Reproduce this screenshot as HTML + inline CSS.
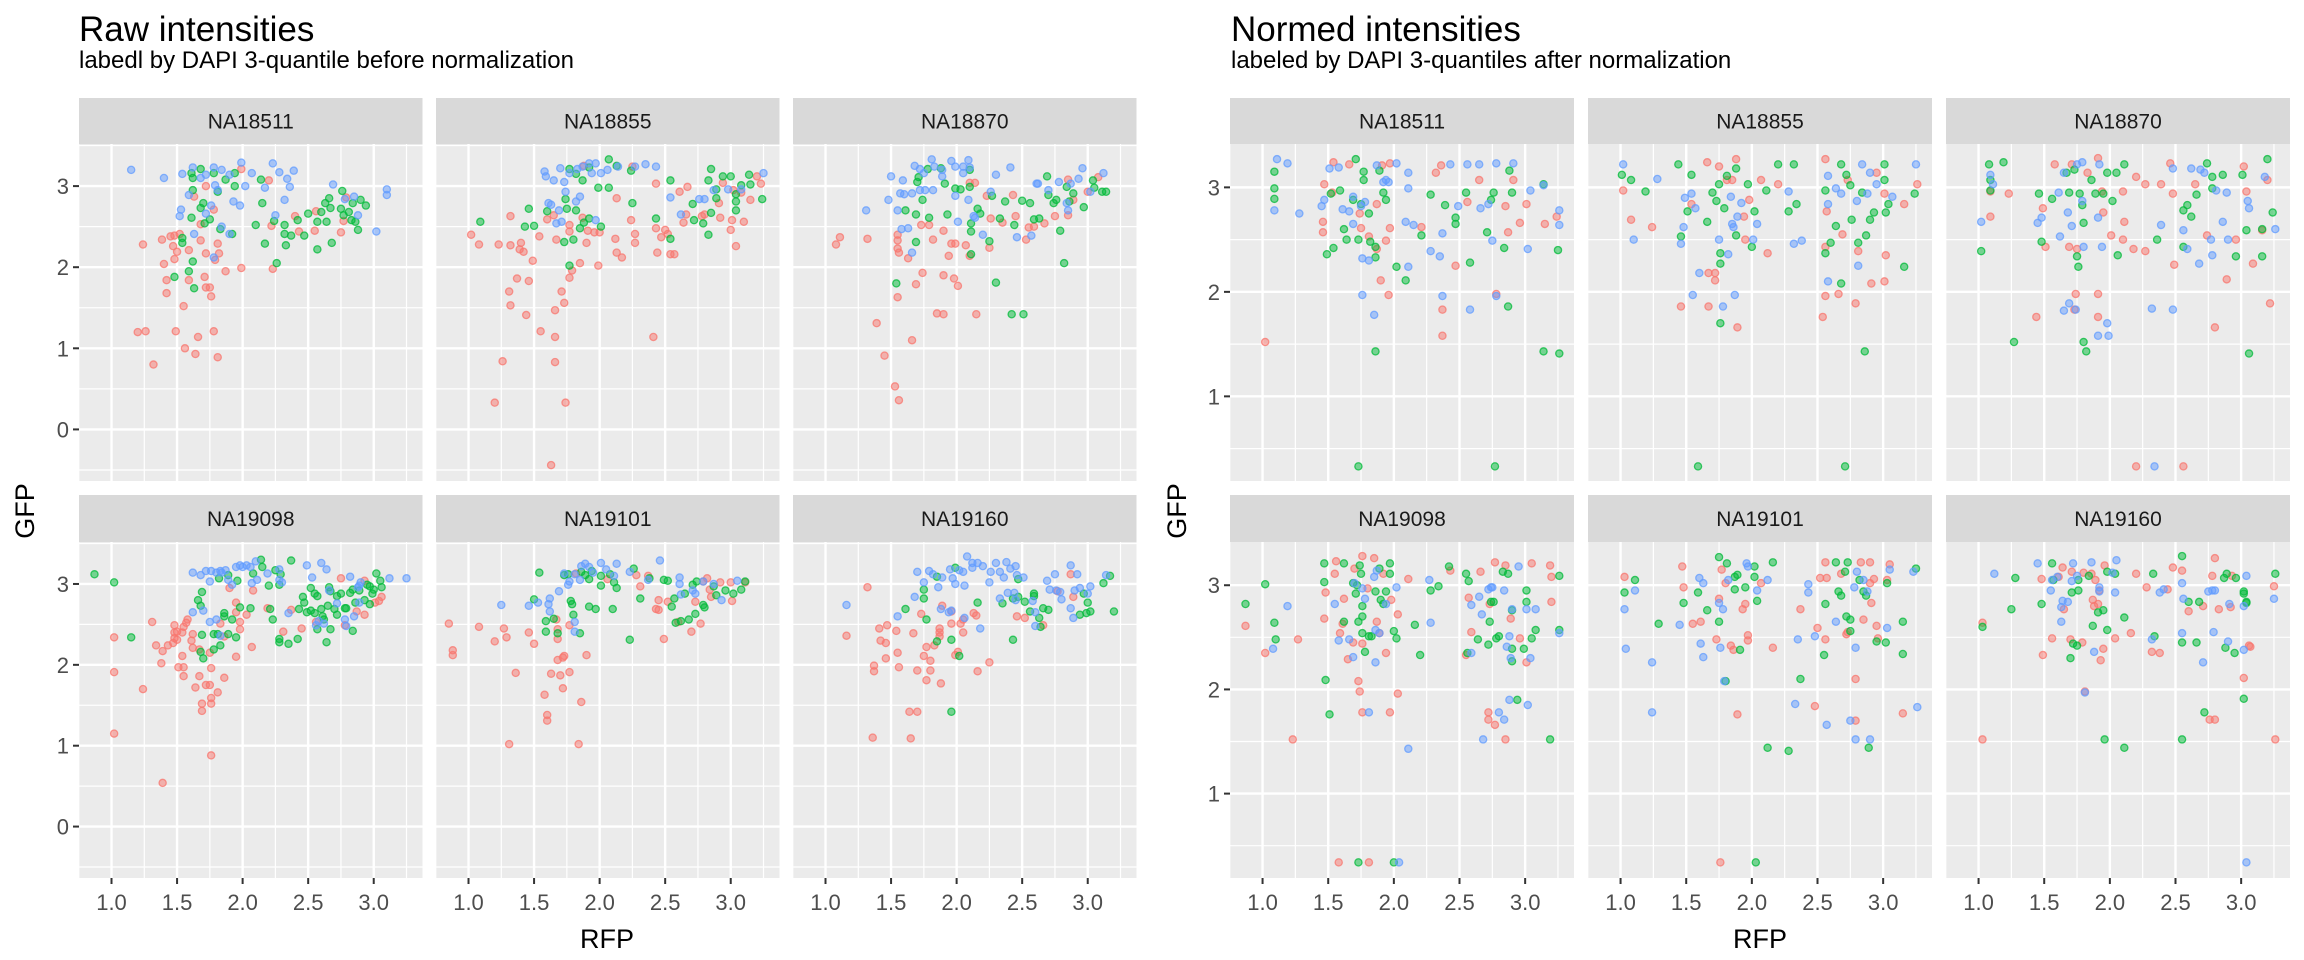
<!DOCTYPE html>
<html><head><meta charset="utf-8">
<style>
html,body{margin:0;padding:0;background:#fff;}
svg{display:block;font-family:"Liberation Sans",Arial,sans-serif;}
</style></head>
<body>
<svg id="chart" width="2304" height="960" viewBox="0 0 2304 960" xmlns="http://www.w3.org/2000/svg">
<text x="79" y="41" font-size="35" fill="#000">Raw intensities</text>
<text x="79" y="68" font-size="24" fill="#000">labedl by DAPI 3-quantile before normalization</text>
<text x="1231" y="41" font-size="35" fill="#000">Normed intensities</text>
<text x="1231" y="68" font-size="24" fill="#000">labeled by DAPI 3-quantiles after normalization</text>
<text transform="translate(34,511) rotate(-90)" text-anchor="middle" font-size="27" fill="#000">GFP</text>
<text transform="translate(1186,511) rotate(-90)" text-anchor="middle" font-size="27" fill="#000">GFP</text>
<text x="607" y="948" text-anchor="middle" font-size="27" fill="#000">RFP</text>
<text x="1760" y="948" text-anchor="middle" font-size="27" fill="#000">RFP</text>
<g id="panels"></g>
</svg>
<script>
const groupColors = ["#F8766D","#00BA38","#619CFF"];
const xTicks = [1.0,1.5,2.0,2.5,3.0];
const xTickLabels = ["1.0","1.5","2.0","2.5","3.0"];
const xMinor = [0.75,1.25,1.75,2.25,2.75,3.25];
const rawYTicks = [0,1,2,3];
const rawYMinor = [-0.5,0.5,1.5,2.5,3.5];
const normYTicks = [1,2,3];
const normYMinor = [0.5,1.5,2.5];
const lines = ["NA18511","NA18855","NA18870","NA19098","NA19101","NA19160"];

const raw_NA18511_q1 = [[1.99,3.21],[2.2,3.07],[1.72,3.0],[1.63,2.87],[1.78,2.71],[1.24,2.28],[1.385,2.34],[1.45,2.38],[1.48,2.39],[1.52,2.41],[1.47,2.26],[1.5,2.19],[1.48,2.1],[1.4,2.04],[1.59,2.21],[1.68,2.33],[1.81,2.29],[1.72,2.17],[1.82,2.17],[1.79,2.09],[1.87,1.95],[1.99,1.99],[2.23,1.98],[1.59,1.84],[1.71,1.88],[1.72,1.75],[1.75,1.75],[1.76,1.64],[1.42,1.84],[1.42,1.68],[1.55,1.52],[1.26,1.21],[1.49,1.21],[1.66,1.14],[1.78,1.21],[2.22,2.51],[2.43,2.44],[2.4,2.63],[2.55,2.45],[2.56,2.69],[2.75,2.43],[2.77,2.57],[2.79,2.86],[1.68,2.53],[1.32,0.8],[1.56,1.0],[1.64,0.93],[1.81,0.89],[1.2,1.2]];
const raw_NA18511_q2 = [[1.68,3.21],[1.61,3.16],[1.62,3.1],[1.78,3.16],[1.87,3.08],[1.94,3.16],[1.94,3.0],[1.81,2.93],[1.62,2.95],[1.7,2.79],[1.68,2.73],[1.61,2.61],[1.71,2.54],[1.75,2.59],[1.83,2.47],[1.54,2.36],[1.54,2.3],[1.62,2.07],[1.59,1.95],[1.48,1.88],[1.63,1.74],[1.92,2.41],[2.14,3.08],[2.15,2.79],[2.1,2.52],[2.17,2.29],[2.24,2.57],[2.32,2.52],[2.32,2.41],[2.33,2.27],[2.37,2.39],[2.47,2.39],[2.42,2.58],[2.5,2.66],[2.57,2.56],[2.57,2.22],[2.68,2.3],[2.64,2.56],[2.6,2.68],[2.63,2.79],[2.66,2.85],[2.67,2.73],[2.76,2.94],[2.75,2.72],[2.77,2.64],[2.81,2.68],[2.84,2.79],[2.9,2.83],[2.94,2.76],[2.83,2.58],[2.86,2.56],[2.88,2.46],[2.26,2.05]];
const raw_NA18511_q3 = [[1.15,3.2],[1.4,3.1],[1.54,3.15],[1.62,3.23],[1.72,3.14],[1.78,3.23],[1.84,3.2],[1.9,3.14],[1.99,3.29],[2.02,3.0],[2.07,3.16],[2.17,2.98],[2.23,3.28],[2.28,3.17],[2.34,3.09],[2.36,2.99],[2.39,3.19],[2.69,3.02],[1.59,2.89],[1.53,2.71],[1.52,2.63],[1.72,2.66],[1.76,2.76],[1.84,2.5],[1.93,2.81],[1.98,2.76],[1.9,2.41],[1.63,2.41],[1.78,2.12],[2.25,2.64],[2.32,2.83],[2.78,2.84],[2.85,2.87],[2.88,2.64],[3.02,2.44],[3.1,2.96],[3.1,2.89],[1.81,2.95],[1.79,3.01],[1.68,3.1]];

const raw_NA18855_q1 = [[1.02,2.4],[1.08,2.28],[1.23,2.28],[1.32,2.27],[1.4,2.3],[1.39,2.22],[1.42,2.19],[1.32,2.63],[1.54,2.38],[1.6,2.59],[1.65,2.64],[1.67,2.34],[1.77,2.52],[1.77,2.44],[1.87,2.61],[1.91,2.45],[1.96,2.43],[2.0,2.43],[1.9,2.3],[1.49,2.08],[1.85,2.05],[1.99,2.02],[1.79,1.96],[1.77,1.87],[1.37,1.86],[1.46,1.83],[1.31,1.7],[1.32,1.53],[1.44,1.41],[1.71,1.7],[1.73,1.56],[1.66,1.47],[1.55,1.21],[1.66,1.14],[1.26,0.84],[1.66,0.83],[2.41,1.14],[2.12,2.35],[2.13,2.18],[2.17,2.12],[2.13,2.85],[2.24,2.58],[2.27,2.41],[2.27,2.3],[2.44,2.18],[2.47,2.37],[2.43,2.48],[2.5,2.46],[2.52,2.41],[2.54,2.16],[2.57,2.16],[2.43,3.03],[2.61,2.93],[2.67,2.99],[2.64,2.55],[2.66,2.65],[2.78,2.63],[2.8,2.65],[2.92,2.61],[2.91,2.79],[2.94,3.04],[3.02,2.95],[3.01,2.58],[3.04,2.26],[3.1,2.56],[3.0,2.46],[3.15,2.83],[3.2,3.12],[3.23,3.03],[2.25,3.24],[1.88,3.25],[3.08,2.92],[1.63,-0.44],[1.2,0.33],[1.74,0.33]];
const raw_NA18855_q2 = [[1.09,2.56],[1.43,2.5],[1.5,2.51],[1.46,2.72],[1.6,2.69],[1.74,2.84],[1.75,2.72],[1.82,2.7],[1.88,2.55],[1.92,2.6],[2.01,2.5],[1.85,2.48],[1.8,2.34],[1.73,2.31],[1.77,2.02],[1.77,3.21],[1.82,3.15],[1.87,3.07],[1.92,3.23],[1.99,2.98],[2.07,3.33],[2.07,2.98],[2.13,3.25],[2.24,3.19],[2.25,2.79],[2.43,2.6],[2.54,3.07],[2.54,2.35],[2.71,2.78],[2.72,2.58],[2.79,2.54],[2.83,2.4],[2.83,3.07],[2.85,3.21],[2.89,2.96],[2.89,2.85],[2.94,3.12],[3.0,3.12],[3.04,2.81],[3.04,2.7],[3.08,3.01],[3.14,3.14],[3.15,3.02],[3.24,2.84],[2.85,2.67],[3.04,2.9]];
const raw_NA18855_q3 = [[1.58,3.18],[1.59,3.12],[1.65,3.07],[1.7,3.22],[1.73,3.05],[1.74,2.93],[1.77,3.16],[1.83,3.21],[1.87,3.24],[1.92,3.28],[1.97,3.28],[1.94,3.16],[2.01,3.16],[2.06,3.2],[2.14,3.24],[2.27,3.24],[2.35,3.27],[2.43,3.24],[1.97,2.58],[1.67,2.54],[1.61,2.79],[1.63,2.77],[1.69,2.7],[1.82,2.81],[1.85,2.87],[2.54,2.86],[2.62,2.65],[2.76,2.84],[2.8,2.84],[2.87,2.95],[2.98,2.96],[3.08,2.96],[3.25,3.16],[1.71,2.56]];

const raw_NA18870_q1 = [[1.08,2.28],[1.11,2.37],[1.32,2.35],[1.55,2.4],[1.55,2.33],[1.55,2.23],[1.56,2.18],[1.63,2.11],[1.73,2.52],[1.79,2.52],[1.82,2.34],[1.9,2.45],[1.96,2.29],[1.99,2.29],[2.07,2.27],[2.1,2.14],[2.25,2.24],[2.26,2.6],[2.35,2.55],[2.23,2.88],[2.14,3.04],[2.43,2.89],[2.45,2.63],[2.53,2.34],[2.55,2.49],[2.59,2.5],[2.67,2.54],[2.75,2.63],[2.85,2.64],[2.89,2.83],[3.0,2.93],[2.85,3.08],[1.94,2.14],[1.74,1.93],[1.69,1.79],[1.9,1.9],[1.98,1.86],[2.01,1.77],[1.85,1.43],[1.9,1.42],[2.15,1.42],[1.55,1.63],[1.39,1.31],[1.66,1.1],[1.45,0.91],[1.53,0.53],[2.1,3.04],[3.08,3.11],[1.56,0.36]];
const raw_NA18870_q2 = [[1.71,3.11],[1.78,3.21],[1.88,3.22],[1.7,3.05],[1.74,2.83],[1.69,2.65],[1.61,2.7],[1.79,2.61],[1.69,2.31],[1.93,2.65],[1.91,3.03],[1.99,2.97],[2.03,2.96],[2.1,3.2],[2.1,2.99],[2.11,2.54],[2.11,2.44],[2.16,2.72],[2.18,2.66],[2.25,2.32],[2.27,2.88],[2.33,2.6],[2.37,2.81],[2.44,2.52],[2.5,2.82],[2.56,2.79],[2.59,2.59],[2.63,2.6],[2.69,3.12],[2.7,2.89],[2.74,2.79],[2.76,2.83],[2.79,2.45],[2.82,2.05],[2.84,2.99],[2.86,2.81],[2.89,2.91],[2.97,2.74],[3.04,3.07],[3.05,2.98],[3.11,2.93],[3.14,2.93],[1.54,1.8],[2.3,1.81],[2.42,1.42],[2.51,1.42],[2.11,2.16]];
const raw_NA18870_q3 = [[1.31,2.7],[1.48,2.83],[1.5,3.12],[1.59,3.07],[1.55,2.7],[1.57,2.91],[1.6,2.9],[1.66,2.91],[1.68,3.25],[1.72,3.21],[1.75,3.16],[1.81,3.33],[1.83,3.24],[1.89,3.2],[1.96,3.31],[1.99,3.24],[2.05,3.24],[2.09,3.32],[2.1,3.23],[2.05,3.16],[1.89,3.12],[1.76,2.95],[1.72,2.95],[1.99,2.88],[2.09,2.83],[2.01,2.56],[2.13,2.63],[2.14,2.61],[2.2,2.4],[2.26,2.93],[2.3,3.14],[2.41,3.23],[2.46,2.37],[2.57,2.39],[2.61,3.03],[2.62,3.03],[2.7,2.95],[2.78,3.05],[2.84,2.79],[2.85,2.7],[2.87,3.03],[2.93,3.09],[2.96,3.22],[3.02,2.93],[3.12,3.16],[1.58,2.47],[1.63,2.48],[1.66,2.18],[1.82,2.95]];

const raw_NA19098_q1 = [[1.02,2.34],[1.02,1.91],[1.02,1.15],[1.24,1.7],[1.31,2.53],[1.34,2.24],[1.39,2.17],[1.38,2.02],[1.39,0.54],[1.43,2.24],[1.47,2.27],[1.48,2.33],[1.48,2.4],[1.48,2.49],[1.5,2.41],[1.5,2.31],[1.54,2.4],[1.55,2.47],[1.57,2.52],[1.58,2.56],[1.54,2.11],[1.51,1.97],[1.55,1.97],[1.55,1.86],[1.62,2.38],[1.61,2.3],[1.62,2.21],[1.67,2.19],[1.67,1.86],[1.64,1.72],[1.72,1.75],[1.75,1.75],[1.76,1.96],[1.75,2.15],[1.76,1.59],[1.76,1.52],[1.81,1.66],[1.69,1.52],[1.69,1.43],[1.76,0.88],[1.86,1.84],[1.83,2.51],[1.86,2.35],[1.95,2.1],[1.98,2.44],[1.98,2.53],[1.95,2.65],[1.95,2.77],[2.03,2.62],[2.07,2.22],[2.08,2.92],[1.9,2.95],[2.19,2.7],[2.31,2.41],[2.45,2.45],[2.37,2.68],[2.56,2.53],[2.78,2.49],[2.87,2.66],[2.93,2.62],[3.01,2.77],[3.04,2.79],[3.06,2.84],[2.93,3.04],[2.75,3.07]];
const raw_NA19098_q2 = [[0.87,3.12],[1.02,3.02],[1.15,2.34],[1.66,2.8],[1.69,2.9],[1.68,2.73],[1.69,2.37],[1.68,2.16],[1.7,2.08],[1.78,2.19],[1.83,2.24],[1.78,2.38],[1.81,2.38],[1.89,2.38],[1.95,2.34],[1.92,2.56],[1.86,2.64],[1.86,2.6],[1.98,2.71],[2.06,2.7],[1.82,3.07],[1.89,3.11],[1.96,3.04],[2.08,3.13],[2.15,3.21],[2.2,2.98],[2.21,2.69],[2.23,2.56],[2.25,3.17],[2.28,2.99],[2.29,3.12],[2.28,2.32],[2.28,2.28],[2.35,2.26],[2.42,2.32],[2.43,2.69],[2.46,2.84],[2.47,2.77],[2.49,2.65],[2.52,2.67],[2.52,2.95],[2.55,2.88],[2.57,2.85],[2.55,2.64],[2.57,2.44],[2.6,2.69],[2.61,2.6],[2.62,2.56],[2.64,2.28],[2.67,2.44],[2.65,2.73],[2.66,2.96],[2.67,2.91],[2.7,2.69],[2.72,2.85],[2.72,2.62],[2.75,2.88],[2.78,2.7],[2.79,2.7],[2.82,2.89],[2.84,2.93],[2.84,2.42],[2.86,2.77],[2.89,2.92],[2.93,2.8],[2.95,2.99],[2.97,2.75],[2.99,2.88],[3.0,2.93],[3.02,3.13],[3.05,3.04],[3.06,2.96],[2.97,2.97],[2.37,3.29],[2.14,3.3]];
const raw_NA19098_q3 = [[1.62,3.14],[1.68,3.11],[1.72,3.16],[1.76,3.16],[1.75,3.03],[1.8,3.14],[1.83,3.16],[1.84,3.14],[1.87,3.17],[1.89,3.05],[1.92,2.99],[1.95,3.21],[1.98,3.23],[2.0,3.21],[2.03,3.23],[2.06,3.21],[2.07,3.01],[2.11,3.05],[2.1,3.28],[2.19,3.13],[2.28,3.05],[2.3,3.02],[2.28,3.18],[2.49,3.23],[2.53,3.08],[2.6,3.26],[2.64,3.18],[2.66,2.92],[2.72,2.76],[2.78,2.56],[2.79,2.48],[2.85,2.6],[2.88,2.96],[2.89,2.77],[2.82,3.09],[2.9,3.02],[3.12,3.07],[3.25,3.07],[1.62,2.65],[1.7,2.67],[1.75,2.53],[1.8,2.56],[1.83,2.36],[2.35,2.64],[2.56,2.49],[2.58,2.54],[2.62,2.51],[2.89,2.98]];

const raw_NA19101_q1 = [[0.85,2.51],[0.88,2.18],[0.88,2.12],[1.08,2.47],[1.27,2.45],[1.29,2.34],[1.2,2.29],[1.46,2.4],[1.5,2.26],[1.68,2.44],[1.68,2.32],[1.67,2.56],[1.77,2.49],[1.68,2.06],[1.72,2.09],[1.73,2.11],[1.9,2.12],[1.36,1.9],[1.63,1.89],[1.7,1.87],[1.77,1.91],[1.72,1.71],[1.58,1.63],[1.86,1.54],[1.6,1.38],[1.6,1.31],[1.31,1.02],[1.84,1.02],[1.82,3.13],[2.06,3.06],[2.28,3.11],[2.37,3.1],[2.31,2.97],[2.45,2.8],[2.43,2.69],[2.45,2.68],[2.49,2.32],[2.52,2.78],[2.6,2.53],[2.7,2.41],[2.77,2.51],[2.73,2.78],[2.84,2.93],[2.85,2.84],[2.79,3.03],[2.82,3.07],[2.92,3.02],[3.0,3.02],[3.01,2.79],[3.11,3.02]];
const raw_NA19101_q2 = [[1.54,3.14],[1.5,2.81],[1.59,2.54],[1.59,2.41],[1.65,2.57],[1.68,2.39],[1.73,3.11],[1.76,3.12],[1.78,2.79],[1.79,2.75],[1.8,2.62],[1.85,2.39],[1.86,3.15],[1.89,3.11],[1.92,3.06],[1.94,3.16],[1.92,2.72],[1.97,2.69],[2.01,2.98],[2.01,3.1],[2.08,3.12],[2.11,3.02],[2.13,2.95],[2.1,2.69],[2.23,2.31],[2.26,3.19],[2.31,2.82],[2.38,3.07],[2.49,3.05],[2.52,3.04],[2.55,2.72],[2.57,2.82],[2.58,2.52],[2.62,2.54],[2.65,2.88],[2.68,2.56],[2.71,2.99],[2.74,3.03],[2.73,2.63],[2.79,2.74],[2.8,2.71],[2.87,2.97],[2.89,2.86],[2.96,2.92],[3.02,2.88],[3.08,2.93],[3.11,3.03]];
const raw_NA19101_q3 = [[1.25,2.74],[1.46,2.73],[1.53,2.77],[1.61,2.75],[1.62,2.82],[1.62,2.66],[1.69,2.91],[1.76,2.99],[1.77,3.03],[1.73,3.13],[1.81,3.12],[1.85,3.05],[1.86,3.22],[1.89,3.25],[1.92,3.21],[1.95,3.14],[2.01,3.26],[2.05,3.18],[2.13,3.25],[2.11,3.1],[2.23,3.15],[2.37,3.05],[2.46,3.29],[2.61,3.08],[2.61,3.0],[2.62,2.87],[2.71,2.92],[2.73,2.88],[2.79,3.03],[2.87,3.0],[2.93,2.8],[3.05,3.04],[1.81,2.53],[1.81,2.41]];

const raw_NA19160_q1 = [[1.16,2.36],[1.32,2.96],[1.37,1.99],[1.37,1.92],[1.36,1.1],[1.41,2.45],[1.42,2.3],[1.46,2.27],[1.46,2.08],[1.47,2.49],[1.54,2.42],[1.55,2.15],[1.56,1.97],[1.64,1.42],[1.7,1.42],[1.65,1.09],[1.67,2.39],[1.7,1.93],[1.73,2.63],[1.75,2.11],[1.77,2.22],[1.8,2.05],[1.8,1.93],[1.77,1.81],[1.83,2.24],[1.87,2.4],[1.87,2.35],[1.87,2.45],[1.88,1.77],[1.89,2.73],[1.96,2.66],[1.96,2.51],[1.99,2.12],[2.01,2.16],[2.03,2.51],[2.05,2.4],[2.05,2.56],[2.13,2.64],[2.15,2.61],[2.16,1.92],[2.25,2.03],[2.46,2.6],[2.52,2.58],[2.66,2.49],[2.77,2.91],[2.87,3.12],[2.89,2.84]];
const raw_NA19160_q2 = [[1.61,2.69],[1.75,2.93],[1.75,2.82],[1.77,2.56],[1.85,3.09],[1.85,2.29],[1.96,2.31],[1.99,3.2],[2.02,2.11],[1.96,1.42],[2.16,2.77],[2.35,2.76],[2.43,2.82],[2.47,2.84],[2.43,2.31],[2.47,3.06],[2.52,2.78],[2.56,2.66],[2.59,2.85],[2.63,2.58],[2.64,2.47],[2.66,2.7],[2.7,2.68],[2.94,2.62],[2.99,2.64],[3.02,2.66],[2.97,2.88],[3.0,2.77],[3.12,3.01],[3.17,3.1],[3.2,2.66],[2.59,2.88]];
const raw_NA19160_q3 = [[1.16,2.74],[1.55,2.6],[1.68,2.84],[1.7,3.15],[1.75,3.02],[1.79,3.16],[1.82,3.12],[1.86,2.96],[1.89,3.08],[1.88,2.69],[1.94,2.65],[1.96,2.67],[1.95,3.18],[1.97,3.07],[1.99,3.0],[2.02,3.17],[2.05,3.15],[2.06,2.58],[2.06,2.98],[2.08,3.34],[2.12,3.26],[2.12,3.2],[2.16,3.26],[2.2,3.22],[2.18,2.45],[2.26,3.15],[2.25,3.02],[2.3,3.26],[2.33,3.15],[2.36,3.08],[2.38,3.27],[2.41,3.19],[2.45,3.22],[2.46,3.11],[2.51,3.08],[2.39,2.89],[2.44,2.89],[2.33,2.82],[2.45,2.8],[2.58,2.79],[2.6,2.65],[2.6,2.48],[2.69,3.04],[2.75,3.12],[2.71,2.93],[2.76,2.92],[2.79,2.9],[2.8,2.81],[2.87,2.7],[2.89,2.58],[2.87,3.23],[2.92,3.12],[2.94,2.95],[3.0,2.88],[3.02,2.97],[3.14,3.11],[2.9,2.92]];

const norm_NA18511_q1 = [[1.02,1.52],[1.47,3.03],[1.46,2.67],[1.46,2.57],[1.54,3.24],[1.53,2.95],[1.66,3.22],[1.74,2.75],[1.75,2.61],[1.81,2.53],[1.87,2.84],[1.87,2.41],[1.9,2.11],[1.96,1.97],[1.97,2.61],[1.91,3.21],[1.97,3.23],[1.94,2.49],[2.21,2.62],[2.37,1.83],[2.37,1.58],[2.32,3.14],[2.36,3.21],[2.56,2.86],[2.65,3.07],[2.47,2.25],[2.78,1.98],[2.85,2.82],[2.91,3.07],[2.96,2.66],[3.01,2.84],[3.15,2.65],[3.24,2.72],[2.87,2.57]];
const norm_NA18511_q2 = [[1.09,3.15],[1.09,2.99],[1.09,2.89],[1.49,2.36],[1.54,2.42],[1.52,2.94],[1.59,2.97],[1.62,2.6],[1.64,2.5],[1.71,3.27],[1.69,2.88],[1.75,2.84],[1.73,2.5],[1.77,3.15],[1.77,3.07],[1.81,2.75],[1.82,2.48],[1.86,2.43],[1.86,2.33],[1.89,3.16],[1.92,2.95],[1.94,2.88],[1.86,1.43],[2.02,2.24],[2.09,2.11],[2.21,2.54],[2.28,2.93],[2.39,2.83],[2.47,2.71],[2.47,2.65],[2.55,2.95],[2.58,2.28],[2.71,2.57],[2.74,2.88],[2.76,2.95],[2.84,2.42],[2.88,3.16],[2.9,2.95],[2.87,1.86],[3.14,3.03],[3.14,1.43],[3.26,1.41],[3.25,2.4],[1.73,0.33],[2.77,0.33]];
const norm_NA18511_q3 = [[1.11,3.27],[1.19,3.23],[1.09,2.78],[1.28,2.75],[1.45,2.82],[1.47,2.88],[1.51,3.18],[1.58,3.19],[1.61,2.79],[1.66,2.77],[1.69,2.91],[1.69,2.65],[1.75,2.82],[1.78,2.86],[1.76,2.32],[1.81,2.3],[1.76,1.97],[1.85,1.78],[1.87,3.21],[1.92,3.05],[1.94,3.07],[1.96,3.05],[2.02,3.23],[2.11,3.14],[2.11,2.99],[2.11,2.24],[2.09,2.67],[2.15,2.64],[2.28,2.39],[2.35,2.34],[2.37,1.96],[2.37,2.56],[2.49,2.82],[2.43,3.22],[2.56,3.22],[2.65,3.22],[2.66,2.8],[2.75,2.49],[2.78,3.23],[2.78,1.96],[2.91,3.23],[3.04,2.97],[3.02,2.41],[3.14,3.02],[3.26,2.78],[3.26,2.64],[2.58,1.83],[2.72,2.84]];

const norm_NA18855_q1 = [[1.02,2.97],[1.08,2.69],[1.24,2.62],[1.46,1.86],[1.54,2.84],[1.66,3.24],[1.67,2.18],[1.67,1.86],[1.72,2.18],[1.72,2.11],[1.75,3.2],[1.81,3.07],[1.85,3.07],[1.88,3.27],[1.89,1.66],[1.94,2.72],[1.95,2.5],[1.98,2.88],[2.07,3.07],[2.12,2.37],[2.2,3.03],[2.56,3.27],[2.57,2.77],[2.56,2.43],[2.56,1.96],[2.54,1.76],[2.66,1.98],[2.69,2.55],[2.79,1.89],[2.81,2.39],[2.91,2.08],[2.95,3.14],[3.01,2.94],[3.01,2.1],[3.02,2.35],[3.16,2.84],[3.26,3.03],[2.73,3.07]];
const norm_NA18855_q2 = [[1.01,3.12],[1.08,3.07],[1.19,2.96],[1.44,3.22],[1.46,2.53],[1.51,2.77],[1.54,3.12],[1.66,2.67],[1.7,2.95],[1.75,3.03],[1.73,2.87],[1.76,2.37],[1.76,2.27],[1.76,1.7],[1.79,2.8],[1.81,3.11],[1.88,3.18],[1.88,2.54],[1.97,3.03],[2.0,2.43],[2.02,2.77],[2.11,2.97],[2.2,3.22],[2.28,2.77],[2.32,3.22],[2.34,2.84],[2.56,2.97],[2.56,2.37],[2.6,2.47],[2.64,2.63],[2.68,3.22],[2.68,2.08],[2.72,3.12],[2.75,3.02],[2.76,2.69],[2.81,2.47],[2.84,2.95],[2.86,1.43],[2.87,2.54],[2.9,2.69],[2.93,2.76],[3.01,3.22],[3.01,3.07],[3.04,2.84],[3.16,2.24],[3.24,2.94],[3.02,2.76],[1.59,0.33],[2.71,0.33]];
const norm_NA18855_q3 = [[1.02,3.22],[1.1,2.5],[1.28,3.08],[1.46,2.46],[1.48,2.62],[1.49,2.9],[1.54,2.94],[1.57,2.8],[1.55,1.97],[1.6,2.18],[1.78,1.86],[1.75,2.5],[1.82,2.36],[1.84,2.91],[1.85,2.65],[1.86,2.62],[1.87,1.97],[1.89,2.72],[1.92,2.85],[2.01,2.5],[2.04,2.65],[2.28,2.96],[2.32,2.46],[2.38,2.49],[2.58,3.11],[2.58,2.84],[2.64,2.99],[2.68,2.94],[2.8,2.87],[2.81,2.25],[2.84,3.22],[2.88,2.94],[2.58,2.1],[3.07,2.91],[3.25,3.22],[2.9,3.14],[2.95,3.03]];

const norm_NA18870_q1 = [[1.09,2.72],[1.09,2.96],[1.23,2.94],[1.44,1.76],[1.49,2.8],[1.51,2.43],[1.58,3.22],[1.71,3.22],[1.69,2.43],[1.73,1.83],[1.74,1.98],[1.75,2.41],[1.83,3.14],[1.91,3.28],[1.91,1.98],[1.91,1.76],[1.94,2.96],[1.95,2.76],[2.01,2.54],[2.1,2.96],[2.11,2.67],[2.1,2.5],[2.18,2.41],[2.2,3.1],[2.27,3.03],[2.27,2.39],[2.39,3.03],[2.46,3.23],[2.48,2.94],[2.49,2.26],[2.65,3.03],[2.74,2.54],[2.8,1.66],[2.89,2.12],[2.96,2.5],[3.02,3.2],[3.09,2.27],[3.16,2.59],[3.2,3.07],[3.22,1.89],[2.2,0.33],[2.56,0.33],[3.04,2.96]];
const norm_NA18870_q2 = [[1.02,2.39],[1.08,3.22],[1.09,3.07],[1.09,2.97],[1.19,3.24],[1.27,1.52],[1.46,2.94],[1.48,2.48],[1.56,2.89],[1.67,3.14],[1.69,2.95],[1.73,3.17],[1.77,2.94],[1.79,2.83],[1.8,2.66],[1.75,2.34],[1.76,2.24],[1.8,1.52],[1.82,1.43],[1.86,3.07],[1.89,2.94],[1.95,2.94],[1.98,3.14],[2.02,2.87],[2.05,3.14],[2.06,2.35],[2.11,3.22],[2.36,2.5],[2.56,2.78],[2.59,2.83],[2.62,2.72],[2.66,2.93],[2.74,3.23],[2.78,3.1],[2.78,2.99],[2.86,3.12],[2.96,2.34],[3.01,3.12],[3.04,2.59],[3.06,1.41],[3.16,2.6],[3.16,2.34],[3.2,3.27],[3.24,2.76],[2.56,2.43]];
const norm_NA18870_q3 = [[1.02,2.67],[1.09,3.12],[1.11,3.03],[1.45,2.66],[1.48,2.71],[1.61,2.95],[1.62,2.53],[1.65,3.14],[1.68,2.76],[1.69,1.89],[1.71,2.63],[1.74,1.83],[1.75,3.22],[1.79,3.24],[1.79,2.87],[1.8,2.43],[1.91,2.71],[1.92,3.22],[1.94,2.43],[1.98,1.7],[1.91,1.58],[1.99,1.58],[2.32,1.84],[2.48,1.83],[2.39,2.64],[2.48,3.18],[2.56,2.59],[2.59,2.41],[2.62,3.18],[2.69,3.17],[2.72,3.14],[2.77,2.5],[2.78,2.35],[2.81,2.97],[2.86,2.67],[2.89,2.95],[2.9,2.5],[3.05,2.87],[3.06,2.8],[3.18,3.1],[3.26,2.6],[2.68,2.27],[2.34,0.33],[1.65,1.82]];

const norm_NA19098_q1 = [[0.87,2.61],[1.02,2.35],[1.23,1.52],[1.27,2.48],[1.47,2.68],[1.48,2.93],[1.55,3.11],[1.59,2.54],[1.61,2.63],[1.56,3.23],[1.62,2.87],[1.65,2.29],[1.69,2.45],[1.7,3.16],[1.73,2.08],[1.74,1.98],[1.76,1.78],[1.76,2.44],[1.76,3.28],[1.8,2.97],[1.81,0.34],[1.85,3.26],[1.87,2.65],[1.89,2.54],[1.92,3.11],[1.94,2.35],[1.97,1.78],[1.98,2.86],[2.03,2.72],[2.03,1.96],[2.11,3.06],[1.58,0.34],[2.43,3.14],[2.55,2.33],[2.57,2.88],[2.59,2.55],[2.66,3.13],[2.72,1.71],[2.72,1.78],[2.77,1.66],[2.77,3.22],[2.85,1.52],[2.85,3.19],[2.89,2.68],[2.96,2.49],[3.01,2.26],[3.05,3.21],[3.19,3.19],[3.2,3.08],[3.2,2.84],[2.73,2.82]];
const norm_NA19098_q2 = [[0.87,2.82],[1.02,3.01],[1.09,2.64],[1.1,2.48],[1.47,3.21],[1.47,3.03],[1.48,2.09],[1.51,1.76],[1.62,3.21],[1.62,2.65],[1.69,3.02],[1.71,2.92],[1.73,2.65],[1.74,3.19],[1.75,3.11],[1.76,2.8],[1.76,2.7],[1.76,2.54],[1.78,2.36],[1.81,2.51],[1.83,2.51],[1.86,2.94],[1.89,3.16],[1.9,2.86],[1.92,2.82],[1.94,2.94],[1.97,3.21],[1.97,3.11],[2.0,2.56],[2.0,0.34],[2.02,2.49],[2.16,2.62],[2.2,2.33],[2.28,2.95],[2.34,2.99],[2.42,3.18],[2.55,3.11],[2.56,2.35],[2.57,3.04],[2.64,2.48],[2.72,2.43],[2.73,2.65],[2.74,2.84],[2.78,2.49],[2.8,2.51],[2.83,3.13],[2.87,3.11],[2.9,2.76],[2.9,2.39],[2.9,2.27],[2.94,1.9],[2.99,2.39],[3.01,2.95],[3.01,2.84],[3.05,2.49],[3.08,2.57],[3.19,1.52],[3.26,3.09],[3.26,2.57],[1.73,0.34],[1.72,3.0],[2.76,2.84]];
const norm_NA19098_q3 = [[1.08,2.39],[1.19,2.8],[1.55,2.82],[1.58,2.47],[1.66,2.48],[1.69,2.31],[1.7,3.02],[1.76,2.97],[1.78,2.87],[1.81,1.78],[1.85,3.08],[1.86,2.57],[1.86,2.26],[1.87,3.14],[1.89,2.54],[1.94,2.82],[2.02,2.98],[2.04,0.34],[2.11,1.43],[2.27,3.05],[2.28,2.64],[2.59,2.35],[2.59,2.81],[2.65,2.89],[2.67,2.72],[2.68,1.52],[2.72,2.96],[2.75,2.98],[2.8,1.78],[2.84,2.95],[2.84,1.71],[2.86,2.41],[2.88,2.51],[2.88,1.9],[2.89,2.3],[2.9,2.77],[2.95,3.18],[3.02,1.85],[3.01,2.77],[3.04,2.3],[3.08,2.77],[3.26,2.54],[2.74,2.98]];

const norm_NA19101_q1 = [[1.03,3.08],[1.47,3.18],[1.48,2.98],[1.55,2.63],[1.61,2.65],[1.73,2.48],[1.75,2.87],[1.76,0.34],[1.77,3.15],[1.8,3.02],[1.84,2.42],[1.86,2.38],[1.89,1.76],[1.93,2.77],[1.95,2.82],[1.97,2.52],[1.97,2.47],[2.07,3.02],[2.16,2.4],[2.37,2.77],[2.48,1.84],[2.5,2.59],[2.56,3.22],[2.57,3.07],[2.56,2.48],[2.68,3.11],[2.72,2.53],[2.73,2.55],[2.79,1.7],[2.79,2.1],[2.83,3.22],[2.85,2.67],[2.9,3.22],[2.9,3.02],[2.91,2.83],[2.93,3.06],[2.95,2.61],[2.96,2.49],[3.03,3.05],[3.05,3.2],[3.15,1.77],[2.52,3.07]];
const norm_NA19101_q2 = [[1.03,2.93],[1.11,3.05],[1.29,2.63],[1.48,2.83],[1.59,2.93],[1.66,2.76],[1.75,3.27],[1.75,2.65],[1.8,2.08],[1.81,3.21],[1.87,3.08],[1.87,2.96],[1.89,3.1],[1.91,2.38],[1.95,2.98],[2.02,3.08],[2.02,3.18],[2.03,0.34],[2.04,2.85],[2.12,1.44],[2.16,3.22],[2.28,1.41],[2.37,2.1],[2.55,2.33],[2.56,2.82],[2.64,3.22],[2.66,2.94],[2.68,2.9],[2.73,3.22],[2.71,3.13],[2.72,2.7],[2.75,2.56],[2.82,3.05],[2.85,2.94],[2.87,2.9],[2.89,1.44],[2.95,2.46],[3.02,2.45],[3.03,3.02],[3.15,2.34],[3.15,2.65],[3.25,3.16],[2.75,2.67]];
const norm_NA19101_q3 = [[1.03,2.77],[1.04,2.39],[1.11,2.95],[1.24,2.26],[1.24,1.78],[1.45,2.62],[1.6,3.07],[1.61,2.44],[1.63,2.31],[1.63,3.02],[1.76,2.4],[1.75,2.83],[1.78,2.77],[1.79,2.08],[1.82,3.05],[1.96,3.21],[1.97,3.18],[2.04,2.95],[2.12,3.05],[2.33,1.86],[2.35,2.48],[2.43,2.93],[2.43,3.01],[2.48,2.51],[2.57,1.66],[2.64,2.65],[2.75,1.7],[2.79,1.52],[2.79,2.4],[2.78,2.98],[2.8,3.13],[2.85,3.05],[2.88,2.94],[2.9,1.52],[3.03,2.59],[3.05,3.15],[3.23,3.13],[3.26,1.83]];

const norm_NA19160_q1 = [[1.03,2.64],[1.03,1.52],[1.49,2.33],[1.48,3.06],[1.56,2.49],[1.61,3.08],[1.64,3.17],[1.65,2.77],[1.7,2.48],[1.71,3.13],[1.79,2.45],[1.8,3.12],[1.81,1.98],[1.86,3.11],[1.87,2.86],[1.88,2.8],[1.89,3.05],[1.91,2.82],[1.95,2.39],[1.93,2.28],[1.92,2.95],[1.96,3.19],[2.04,2.49],[2.16,2.54],[2.2,3.11],[2.28,2.98],[2.32,2.36],[2.38,2.35],[2.44,2.96],[2.48,3.17],[2.55,3.14],[2.6,2.75],[2.71,2.8],[2.76,1.71],[2.8,1.71],[2.78,3.09],[2.8,3.26],[2.83,2.77],[2.92,2.79],[2.93,3.09],[3.02,2.11],[3.07,2.41],[3.06,2.42],[3.25,2.99],[3.26,1.52]];
const norm_NA19160_q2 = [[1.03,2.6],[1.28,3.07],[1.25,2.77],[1.48,2.82],[1.56,3.21],[1.57,3.05],[1.7,2.3],[1.72,2.44],[1.75,2.42],[1.76,3.05],[1.76,2.95],[1.71,2.93],[1.84,3.09],[1.87,2.61],[1.91,2.74],[1.95,2.76],[1.96,1.52],[1.98,2.57],[1.98,3.13],[2.04,3.11],[2.11,2.69],[2.11,1.44],[2.34,2.51],[2.33,3.11],[2.55,2.45],[2.55,1.52],[2.55,3.28],[2.6,2.84],[2.66,2.45],[2.68,2.84],[2.72,1.78],[2.87,3.07],[2.88,2.4],[2.89,3.11],[2.95,2.35],[2.96,3.07],[3.02,2.94],[3.02,2.92],[3.02,1.91],[3.04,2.83],[3.04,2.84],[3.26,3.11]];
const norm_NA19160_q3 = [[1.12,3.11],[1.45,3.21],[1.55,2.95],[1.56,3.05],[1.6,3.08],[1.63,2.79],[1.63,2.65],[1.64,2.85],[1.68,2.84],[1.71,3.04],[1.72,3.21],[1.75,3.09],[1.81,1.97],[1.86,3.22],[1.88,2.36],[1.92,2.98],[1.92,2.94],[2.02,3.12],[2.05,3.24],[2.04,2.93],[2.38,2.93],[2.41,2.96],[2.32,2.48],[2.55,3.02],[2.56,2.87],[2.55,2.54],[2.71,2.26],[2.75,2.94],[2.78,2.95],[2.79,2.55],[2.8,2.95],[2.9,2.46],[2.91,2.82],[3.02,2.38],[3.02,2.8],[3.04,0.34],[3.04,3.09],[3.25,2.87]];

const rawData = [
  [raw_NA18511_q1,raw_NA18511_q2,raw_NA18511_q3],
  [raw_NA18855_q1,raw_NA18855_q2,raw_NA18855_q3],
  [raw_NA18870_q1,raw_NA18870_q2,raw_NA18870_q3],
  [raw_NA19098_q1,raw_NA19098_q2,raw_NA19098_q3],
  [raw_NA19101_q1,raw_NA19101_q2,raw_NA19101_q3],
  [raw_NA19160_q1,raw_NA19160_q2,raw_NA19160_q3]];
const normData = [
  [norm_NA18511_q1,norm_NA18511_q2,norm_NA18511_q3],
  [norm_NA18855_q1,norm_NA18855_q2,norm_NA18855_q3],
  [norm_NA18870_q1,norm_NA18870_q2,norm_NA18870_q3],
  [norm_NA19098_q1,norm_NA19098_q2,norm_NA19098_q3],
  [norm_NA19101_q1,norm_NA19101_q2,norm_NA19101_q3],
  [norm_NA19160_q1,norm_NA19160_q2,norm_NA19160_q3]];

const NS = "http://www.w3.org/2000/svg";
const root = document.getElementById("panels");
function mk(tag, attrs, parent) {
  const e = document.createElementNS(NS, tag);
  for (const k in attrs) e.setAttribute(k, attrs[k]);
  parent.appendChild(e);
  return e;
}
const X_DOM = [0.752, 3.372];
const ROWS = [{strip:98, top:144, bottom:481}, {strip:495, top:542, bottom:878}];

function drawFigure(prefix, data, colsX, panelW, yDom, yTicks, yMinor, yLabelRight) {
  const g = mk("g", {}, root);
  
  
  for (let i = 0; i < lines.length; i++) {
    const r = ROWS[Math.floor(i / 3)];
    const x0 = colsX[i % 3];
    const pg = mk("g", {}, g);
    
    
    const sx = v => x0 + (v - X_DOM[0]) / (X_DOM[1] - X_DOM[0]) * panelW;
    const sy = v => r.bottom - (v - yDom[0]) / (yDom[1] - yDom[0]) * (r.bottom - r.top);
    const strip = mk("rect", {x:x0, y:r.strip, width:panelW, height:r.top - r.strip, fill:"#d9d9d9"}, pg);
    
    
    const st = mk("text", {x:x0 + panelW/2, y:(r.strip + r.top)/2 + 7.5, "text-anchor":"middle", "font-size":21, fill:"#1a1a1a"}, pg);
    st.textContent = lines[i];
    
    
    const bg = mk("rect", {x:x0, y:r.top, width:panelW, height:r.bottom - r.top, fill:"#ebebeb"}, pg);
    
    
    xMinor.forEach(v => { const l = mk("line", {x1:sx(v), x2:sx(v), y1:r.top, y2:r.bottom, stroke:"#fff", "stroke-width":1.2}, pg);   });
    yMinor.forEach(v => { if (v < yDom[0] || v > yDom[1]) return; const l = mk("line", {x1:x0, x2:x0+panelW, y1:sy(v), y2:sy(v), stroke:"#fff", "stroke-width":1.2}, pg);   });
    xTicks.forEach(v => { const l = mk("line", {x1:sx(v), x2:sx(v), y1:r.top, y2:r.bottom, stroke:"#fff", "stroke-width":2.4}, pg);   });
    yTicks.forEach(v => { const l = mk("line", {x1:x0, x2:x0+panelW, y1:sy(v), y2:sy(v), stroke:"#fff", "stroke-width":2.4}, pg);   });
    // points
    for (let k = 0; k < 3; k++) {
      data[i][k].forEach(p => {
        const c = mk("circle", {cx:sx(p[0]), cy:sy(p[1]), r:3.6, fill:groupColors[k], "fill-opacity":0.5, stroke:groupColors[k], "stroke-opacity":0.75, "stroke-width":1.3}, pg);
        
        
      });
    }
    // x axis on bottom row
    if (r === ROWS[1]) {
      xTicks.forEach((v, j) => {
        const t = mk("line", {x1:sx(v), x2:sx(v), y1:r.bottom, y2:r.bottom + 6, stroke:"#333", "stroke-width":2}, pg);
        
        
        const tl = mk("text", {x:sx(v), y:r.bottom + 32, "text-anchor":"middle", "font-size":22, fill:"#4d4d4d"}, pg);
        tl.textContent = xTickLabels[j];
        
        
      });
    }
    // y axis on first column
    if (i % 3 === 0) {
      yTicks.forEach(v => {
        const t = mk("line", {x1:x0 - 6, x2:x0, y1:sy(v), y2:sy(v), stroke:"#333", "stroke-width":2}, pg);
        
        
        const tl = mk("text", {x:x0 - 10, y:sy(v) + 8, "text-anchor":"end", "font-size":22, fill:"#4d4d4d"}, pg);
        tl.textContent = String(v);
        
        
      });
    }
  }
}
drawFigure("raw", rawData, [79, 436, 793], 343.5, [-0.636, 3.519], rawYTicks, rawYMinor);
drawFigure("normed", normData, [1230, 1588, 1946], 344, [0.19, 3.415], normYTicks, normYMinor);
</script>
</body></html>
